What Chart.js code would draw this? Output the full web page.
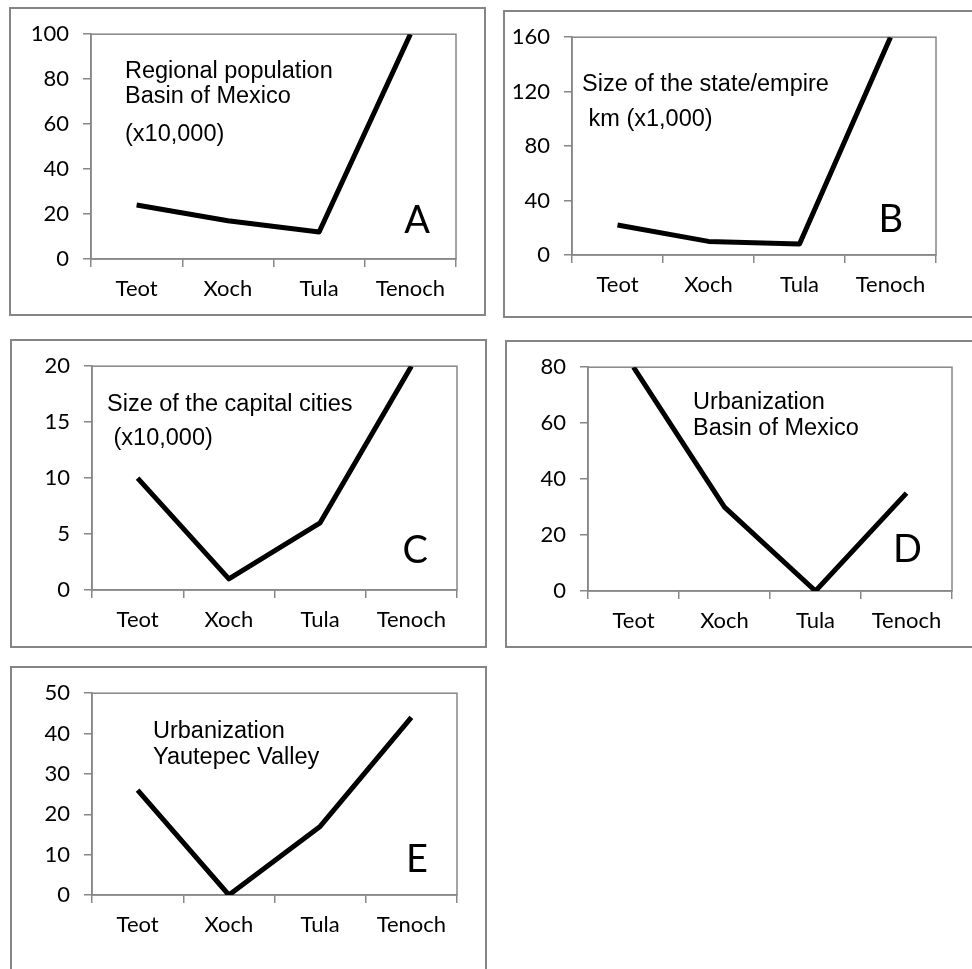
<!DOCTYPE html>
<html>
<head>
<meta charset="utf-8">
<script src="https://cdn.jsdelivr.net/npm/chart.js@4"></script>
<style>
  html, body { margin: 0; padding: 0; background: #fff; }
  body { width: 972px; height: 969px; position: relative; overflow: hidden; }
  .frame { position: absolute; border: 2px solid #858585; box-sizing: border-box; }
  canvas { position: absolute; }
</style>
</head>
<body>
<script>
const periods = ['Teot', 'Xoch', 'Tula', 'Tenoch'];

const regionalPopulation = [24, 17, 12, 100];
const stateSize = [22, 10, 8, 160];
const capitalSize = [10, 1, 6, 20];
const urbanBasin = [80, 30, 0, 35];
const urbanYautepec = [26, 0, 17, 44];

const axisMax = [100, 160, 20, 80, 50];
const axisStep = [20, 40, 5, 20, 10];

const noteTexts = [
  ['Regional population', 'Basin of Mexico', '(x10,000)'],
  ['Size of the state/empire', ' km (x1,000)'],
  ['Size of the capital cities', ' (x10,000)'],
  ['Urbanization', 'Basin of Mexico'],
  ['Urbanization', 'Yautepec Valley']
];
const panelLetters = ['A', 'B', 'C', 'D', 'E'];
const seriesList = [regionalPopulation, stateSize, capitalSize, urbanBasin, urbanYautepec];

// layout: frame box and plot area in page pixels
const panels = [
  { frame: [9, 7, 486, 316],   area: [91, 33, 456, 259],  notes: [[34, 44], [34, 69], [34, 107]], letter: [26, 26] },
  { frame: [503, 10, 992, 318], area: [572, 29, 936, 255], notes: [[10, 54], [10, 89]], letter: [33, 23] },
  { frame: [10, 339, 487, 648], area: [92, 364, 457, 590], notes: [[15, 45], [15, 79]], letter: [29, 27] },
  { frame: [505, 340, 992, 648], area: [588, 365, 952, 591], notes: [[105, 42], [105, 68]], letter: [30, 29] },
  { frame: [10, 666, 487, 992], area: [92, 692, 457, 918], notes: [[61, 45], [61, 71]], letter: [29, 23] }
];

const gray = '#878787';

const panelDecor = {
  id: 'panelDecor',
  beforeDatasetsDraw(chart, args, opts) {
    const { ctx, chartArea: a } = chart;
    ctx.save();
    ctx.strokeStyle = gray;
    ctx.lineWidth = 1.5;
    ctx.strokeRect(a.left, a.top, a.right - a.left, a.bottom - a.top);
    ctx.restore();
  },
  afterDraw(chart, args, opts) {
    const { ctx, chartArea: a } = chart;
    ctx.save();
    ctx.fillStyle = '#000';
    ctx.font = '23.5px "Liberation Sans", Arial, sans-serif';
    ctx.textAlign = 'left';
    ctx.textBaseline = 'alphabetic';
    opts.lines.forEach((t, i) => {
      ctx.fillText(t, a.left + opts.pos[i][0], a.top + opts.pos[i][1]);
    });
    ctx.font = '38px Lato, "Open Sans", sans-serif';
    ctx.textAlign = 'right';
    ctx.fillText(opts.letter, a.right - opts.letterPos[0], a.bottom - opts.letterPos[1]);
    ctx.restore();
  }
};

panels.forEach((p, i) => {
  const [fl, ft, fr, fb] = p.frame;
  const [al, at, ar, ab] = p.area;

  const box = document.createElement('div');
  box.className = 'frame';
  box.style.left = fl + 'px';
  box.style.top = ft + 'px';
  box.style.width = (fr - fl) + 'px';
  box.style.height = (fb - ft) + 'px';
  document.body.appendChild(box);

  const w = Math.min(fr, 972) - fl;
  const h = Math.min(fb, 969) - ft;
  const canvas = document.createElement('canvas');
  canvas.width = w;
  canvas.height = h;
  canvas.style.left = fl + 'px';
  canvas.style.top = ft + 'px';
  canvas.style.width = w + 'px';
  canvas.style.height = h + 'px';
  document.body.appendChild(canvas);

  const yWidth = al - fl;
  const xHeight = (fb - ft) - (ab - ft);
  const padRight = w - (ar - fl);

  new Chart(canvas.getContext('2d'), {
    type: 'line',
    data: {
      labels: periods,
      datasets: [{
        data: seriesList[i],
        borderColor: '#000',
        borderWidth: 5,
        pointRadius: 0,
        tension: 0,
        fill: false,
        clip: 0,
        borderJoinStyle: 'round',
        borderCapStyle: 'butt'
      }]
    },
    options: {
      responsive: false,
      animation: false,
      layout: { padding: { top: at - ft, right: padRight, left: 0, bottom: 0 } },
      plugins: {
        legend: { display: false },
        tooltip: { enabled: false },
        panelDecor: { lines: noteTexts[i], pos: p.notes, letter: panelLetters[i], letterPos: p.letter }
      },
      scales: {
        x: {
          offset: true,
          afterFit(scale) { scale.height = xHeight; },
          grid: { offset: true, drawOnChartArea: false, tickLength: 8, color: gray, lineWidth: 1.5 },
          border: { color: gray, width: 1.5 },
          ticks: { color: '#000', padding: 9, maxRotation: 0, font: { family: 'Lato', size: 22 } }
        },
        y: {
          min: 0,
          max: axisMax[i],
          afterFit(scale) { scale.width = yWidth; },
          grid: { drawOnChartArea: false, tickLength: 8, color: gray, lineWidth: 1.5 },
          border: { color: gray, width: 1.5 },
          ticks: { stepSize: axisStep[i], color: '#000', padding: 14, font: { family: 'Lato', size: 22 } }
        }
      }
    },
    plugins: [panelDecor]
  });
});
</script>
</body>
</html>
